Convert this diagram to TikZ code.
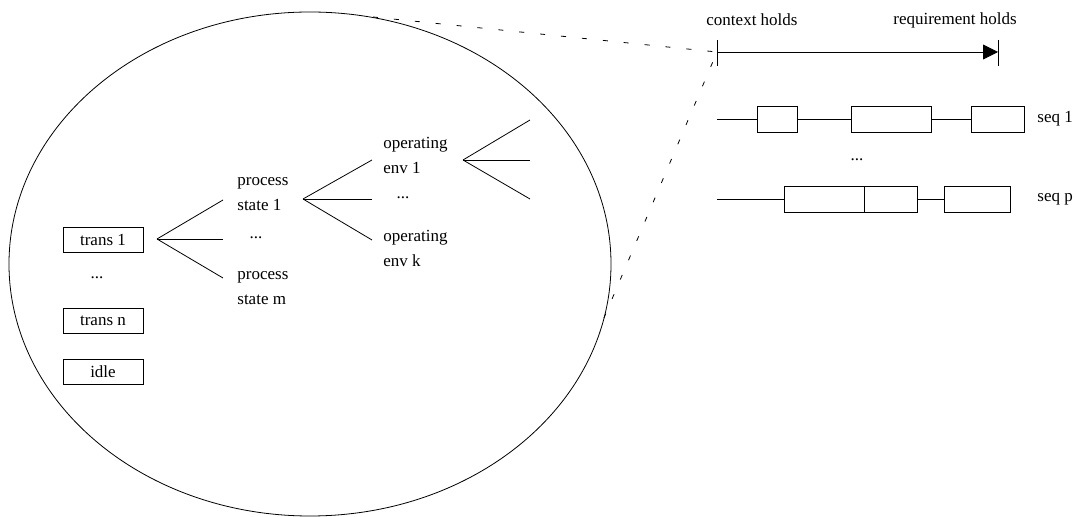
\documentclass[tikz,border=0pt]{standalone}
\usepackage{fontspec}
\setmainfont{Liberation Serif}
\usetikzlibrary{arrows.meta}

\begin{document}
\begin{tikzpicture}[x=0.5pt, y=-0.5pt,
    every node/.style={font=\fontsize{8.5}{12.5}\selectfont, inner sep=0pt},
    lbl/.style={align=left, anchor=west},
    tbox/.style={draw, minimum width=40pt, minimum height=12.5pt},
    seg/.style={draw, minimum height=13pt},
    zoomline/.style={dash pattern=on 2.5pt off 8pt}]
  \useasboundingbox (0,0) rectangle (1077,517);
  % state space
  \draw (310,264) ellipse [x radius=301, y radius=252];

  \node[tbox] (t1) at (103,239.5) {trans 1};
  \node (tdots) at (97,278) {...};
  \node[tbox] (tn) at (103,321) {trans n};
  \node[tbox] (idle) at (103,372) {idle};

  \coordinate (f1) at (157,239);
  \coordinate (f1a) at (223,200);
  \coordinate (f1b) at (223,239);
  \coordinate (f1c) at (223,278);
  \foreach \e in {f1a,f1b,f1c} \draw (f1) -- (\e);

  \node[lbl] (ps1) at (237,194) {process\\state 1};
  \node (psdots) at (256,238) {...};
  \node[lbl] (psm) at (237,288) {process\\state m};

  \coordinate (f2) at (303,199);
  \coordinate (f2a) at (372,160);
  \coordinate (f2b) at (372,199);
  \coordinate (f2c) at (372,240);
  \foreach \e in {f2a,f2b,f2c} \draw (f2) -- (\e);

  \node[lbl] (oe1) at (383,155) {operating\\env 1};
  \node (oedots) at (403,198) {...};
  \node[lbl] (oek) at (383,248) {operating\\env k};

  \coordinate (f3) at (463,160);
  \coordinate (f3a) at (530,120);
  \coordinate (f3b) at (530,160);
  \coordinate (f3c) at (530,199);
  \foreach \e in {f3a,f3b,f3c} \draw (f3) -- (\e);

  % time line
  \coordinate (ctx) at (717,52);
  \coordinate (req) at (998,52);
  \draw (ctx) ++(0,-12) -- ++(0,26);
  \draw (req) ++(0,-12) -- ++(0,26);
  \draw[-{Triangle[length=7.5pt, width=7.5pt]}] (ctx) -- (req);
  \node (ctxl) at (752,20) {context holds};
  \node (reql) at (955,20) {requirement holds};

  % zoom lines
  \coordinate (ztop) at (373,17);
  \coordinate (zbot) at (598,332);
  \draw[zoomline] (ztop) -- (ctx) -- (zbot);

  % sequences
  \coordinate (s1) at (717,119);
  \node[seg, minimum width=20pt] (a) at (777,119) {};
  \node[seg, minimum width=40pt] (b) at (891,119) {};
  \node[seg, minimum width=26.5pt] (c) at (997.5,119) {};
  \draw (s1) -- (a) -- (b) -- (c);
  \node[lbl] (seq1) at (1037,119) {seq 1};

  \node (sdots) at (857,160) {...};

  \coordinate (sp) at (717,199);
  \node[seg, minimum width=40pt] (d) at (824,199) {};
  \node[seg, minimum width=26.5pt] (e) at (890.5,199) {};
  \node[seg, minimum width=33pt] (f) at (977,199) {};
  \draw (sp) -- (d);
  \draw (e) -- (f);
  \node[lbl] (seqp) at (1037,199) {seq p};
\end{tikzpicture}
\end{document}
